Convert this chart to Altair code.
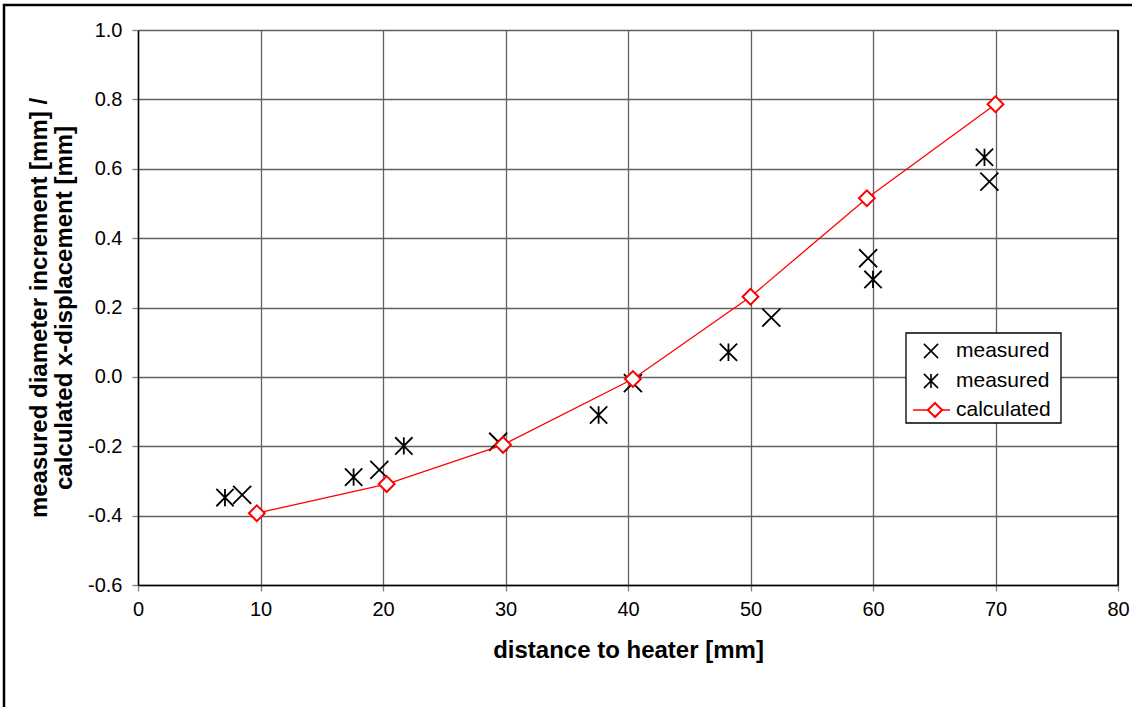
import altair as alt
import pandas as pd

# distance to heater [mm] / value [mm]
cross_x = [8.5, 19.7, 29.4, 40.4, 51.7, 59.6, 69.5]
cross_y = [-0.340, -0.268, -0.187, -0.018, 0.171, 0.342, 0.563]
star_x = [7.1, 17.6, 21.7, 37.6, 48.2, 60.0, 69.1]
star_y = [-0.348, -0.289, -0.199, -0.110, 0.071, 0.281, 0.633]
calc_x = [9.7, 20.3, 29.8, 40.4, 50.0, 59.5, 70.0]
calc_y = [-0.393, -0.309, -0.196, -0.006, 0.231, 0.515, 0.786]

legend_labels = ["measured", "measured", "calculated"]

FONT = "Liberation Sans"
X_PATH = "M-1,-1L1,1M-1,1L1,-1"
STAR_PATH = "M-1,-1L1,1M-1,1L1,-1M0,-1L0,1"
W, H = 980, 555

cross_df = pd.DataFrame({"x": cross_x, "y": cross_y})
star_df = pd.DataFrame({"x": star_x, "y": star_y})
calc_df = pd.DataFrame({"x": calc_x, "y": calc_y})

x_scale = alt.Scale(domain=[0, 80], nice=False, zero=False)
y_scale = alt.Scale(domain=[-0.6, 1.0], nice=False, zero=False)

x_axis = alt.Axis(
    title="distance to heater [mm]",
    values=list(range(0, 81, 10)),
    format="d",
    grid=True,
    labelFlush=False,
    labelPadding=8,
    titlePadding=19,
)
y_axis = alt.Axis(
    title=["measured diameter increment [mm] /", "calculated x-displacement [mm]"],
    values=[-0.6, -0.4, -0.2, 0.0, 0.2, 0.4, 0.6, 0.8, 1.0],
    format=".1f",
    labelExpr="replace(datum.label, '\u2212', '-')",
    grid=True,
    labelFlush=False,
    labelPadding=10,
    titlePadding=11,
    titleLineHeight=25,
)

X = alt.X("x:Q", scale=x_scale, axis=x_axis)
Y = alt.Y("y:Q", scale=y_scale, axis=y_axis)

crosses = alt.Chart(cross_df).mark_point(
    shape=X_PATH, size=324, stroke="black", strokeWidth=1.8, filled=False, opacity=1
).encode(x=X, y=Y)

stars = alt.Chart(star_df).mark_point(
    shape=STAR_PATH, size=300, stroke="black", strokeWidth=1.8, filled=False, opacity=1
).encode(x="x:Q", y="y:Q")

calc_line = alt.Chart(calc_df).mark_line(color="#ff0000", strokeWidth=1.3).encode(
    x="x:Q", y="y:Q"
)
calc_pts = alt.Chart(calc_df).mark_point(
    shape="diamond", size=250, fill="white", stroke="#ff0000", strokeWidth=2,
    filled=True, opacity=1, fillOpacity=1
).encode(x="x:Q", y="y:Q")

one = pd.DataFrame({"k": [0]})

# right edge of the plot frame
right_edge = alt.Chart(one).mark_rule(color="black", strokeWidth=1.5).encode(
    x=alt.value(W), y=alt.value(0), y2=alt.value(H)
)

# outer frame around the figure
frame = alt.Chart(one).mark_rect(
    fill=None, stroke="black", strokeWidth=2.5
).encode(x=alt.value(-134), x2=alt.value(1010), y=alt.value(-25), y2=alt.value(700))

# legend box
lx0, lx1, ly0, ly1 = 768, 923, 303, 393
rows = [321, 351, 380]
legend_box = alt.Chart(one).mark_rect(
    fill="white", stroke="black", strokeWidth=1.3
).encode(x=alt.value(lx0), x2=alt.value(lx1), y=alt.value(ly0), y2=alt.value(ly1))

leg_df = pd.DataFrame({"label": legend_labels, "row": [0, 1, 2]})
legend_text = []
for i, lab in enumerate(legend_labels):
    legend_text.append(
        alt.Chart(leg_df[leg_df.row == i]).mark_text(
            align="left", baseline="middle", font=FONT, fontSize=21, color="black"
        ).encode(x=alt.value(818), y=alt.value(rows[i]), text="label:N")
    )

leg_cross = alt.Chart(one).mark_point(
    shape=X_PATH, size=200, stroke="black", strokeWidth=1.6, filled=False, opacity=1
).encode(x=alt.value(793), y=alt.value(rows[0]))
leg_star = alt.Chart(one).mark_point(
    shape=STAR_PATH, size=200, stroke="black", strokeWidth=1.6, filled=False, opacity=1
).encode(x=alt.value(793), y=alt.value(rows[1]))
leg_line = alt.Chart(one).mark_rule(color="#ff0000", strokeWidth=1.3).encode(
    x=alt.value(775), x2=alt.value(812), y=alt.value(rows[2])
)
leg_diamond = alt.Chart(one).mark_point(
    shape="diamond", size=200, fill="white", stroke="#ff0000", strokeWidth=2,
    filled=True, opacity=1, fillOpacity=1
).encode(x=alt.value(797), y=alt.value(rows[2]))

chart = alt.layer(
    crosses, stars, calc_line, calc_pts, right_edge, frame,
    legend_box, *legend_text, leg_cross, leg_star, leg_line, leg_diamond,
).properties(
    width=W, height=H,
    autosize=alt.AutoSizeParams(type="none"),
    padding={"left": 138, "top": 30, "right": 14, "bottom": 122},
    background="white",
).configure_view(
    stroke=None
).configure_axis(
    labelFont=FONT, labelFontSize=20, labelColor="black",
    titleFont=FONT, titleFontSize=24, titleFontWeight="bold", titleColor="black",
    domainColor="black", domainWidth=1.5,
    tickColor="#808080", tickSize=6, tickWidth=1.3,
    gridColor="#606060", gridWidth=1.3, gridOpacity=1,
)

chart.save("out.html", embed_options={"renderer": "svg", "actions": False})
